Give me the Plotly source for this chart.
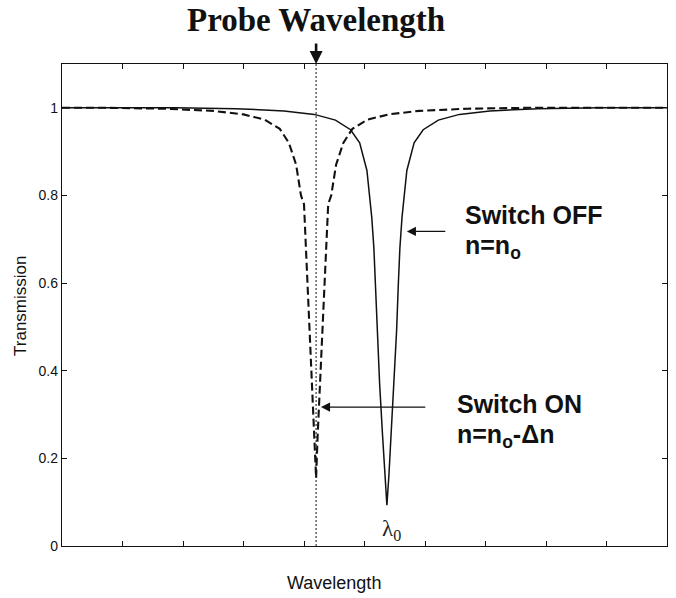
import plotly.graph_objects as go

# OFF state (solid), n = n_o, resonance at lambda_0
off_x = [0, 1, 1.87, 2.87, 3.67, 4.17, 4.52, 4.77, 4.92, 5.04, 5.12, 5.155, 5.18, 5.21, 5.25, 5.295, 5.335, 5.37,
         5.405, 5.445, 5.49, 5.53, 5.56, 5.585, 5.62, 5.70, 5.82, 5.97, 6.22, 6.57, 7.07, 7.87, 8.87, 10]
off_y = [1.0, 1.0, 1.0, 0.998, 0.993, 0.985, 0.972, 0.95, 0.92, 0.857, 0.75, 0.68, 0.60, 0.49, 0.37, 0.26, 0.165, 0.093,
         0.165, 0.26, 0.37, 0.49, 0.60, 0.68, 0.75, 0.857, 0.92, 0.95, 0.972, 0.985, 0.993, 0.998, 1.0, 1.0]

# ON state (dashed), n = n_o - dn, resonance shifted to the probe wavelength
on_x = [0, 0.7, 1.7, 2.5, 3.0, 3.35, 3.6, 3.75, 3.87, 3.95, 4.0, 4.04, 4.08, 4.12, 4.15, 4.175, 4.2,
        4.225, 4.25, 4.28, 4.32, 4.36, 4.4, 4.45, 4.53, 4.65, 4.8, 5.05, 5.4, 5.9, 6.7, 7.7, 10]
on_y = [1.0, 1.0, 0.998, 0.993, 0.985, 0.973, 0.952, 0.92, 0.87, 0.80, 0.78, 0.66, 0.55, 0.42, 0.33, 0.25, 0.155,
        0.25, 0.33, 0.42, 0.55, 0.66, 0.78, 0.80, 0.87, 0.92, 0.952, 0.973, 0.985, 0.993, 0.998, 1.0, 1.0]

probe_x = 4.2
lambda0_x = 5.37

y_ticks = [0, 0.2, 0.4, 0.6, 0.8, 1]
y_labels = ["0", "0.2", "0.4", "0.6", "0.8", "1"]
x_ticks = [1, 2, 3, 4, 5, 6, 7, 8, 9]

fig = go.Figure()
fig.add_trace(go.Scatter(x=on_x, y=on_y, mode="lines",
                         line=dict(color="#111111", width=2.1, dash="8px,4px"), showlegend=False))
fig.add_trace(go.Scatter(x=off_x, y=off_y, mode="lines",
                         line=dict(color="#111111", width=1.5), showlegend=False))
# probe wavelength dotted line
fig.add_trace(go.Scatter(x=[probe_x, probe_x], y=[0, 1.1], mode="lines",
                         line=dict(color="#111111", width=1, dash="2px,2px"), showlegend=False))

arial = "Liberation Sans, Arial, sans-serif"
lab = dict(family=arial, size=25, color="#111")
ann = []
ann.append(dict(text="<b>Probe Wavelength</b>", xref="x", yref="paper", x=probe_x, y=1.0,
                yshift=64, xanchor="center", yanchor="top", showarrow=False,
                font=dict(family="Liberation Serif, Times New Roman, serif", size=33, color="#111")))
ann.append(dict(text="", xref="x", yref="paper", x=probe_x, y=1.0, ax=0, ay=-22,
                showarrow=True, arrowhead=2, arrowsize=1, arrowwidth=2.6, arrowcolor="#111"))
ann.append(dict(text="", xref="x", yref="y", x=5.70, y=0.718, ax=6.36, ay=0.718, axref="x", ayref="y",
                showarrow=True, arrowhead=2, arrowsize=1.4, arrowwidth=1.3, arrowcolor="#111"))
ann.append(dict(text="", xref="x", yref="y", x=4.28, y=0.317, ax=6.03, ay=0.317, axref="x", ayref="y",
                showarrow=True, arrowhead=2, arrowsize=1.4, arrowwidth=1.3, arrowcolor="#111"))
ann.append(dict(text="<b>Switch OFF</b>", xref="x", yref="y", x=6.62, y=0.756,
                xanchor="left", yanchor="middle", showarrow=False, font=lab))
ann.append(dict(text="<b>n=n<sub>o</sub></b>", xref="x", yref="y", x=6.62, y=0.682,
                xanchor="left", yanchor="middle", showarrow=False, font=lab))
ann.append(dict(text="<b>Switch ON</b>", xref="x", yref="y", x=6.50, y=0.324,
                xanchor="left", yanchor="middle", showarrow=False, font=lab))
ann.append(dict(text="<b>n=n<sub>o</sub>-Δn</b>", xref="x", yref="y", x=6.50, y=0.252,
                xanchor="left", yanchor="middle", showarrow=False, font=lab))
ann.append(dict(text="λ<sub>0</sub>", xref="x", yref="y", x=5.44, y=0.036,
                xanchor="center", yanchor="middle", showarrow=False,
                font=dict(family="Liberation Serif, Times New Roman, serif", size=23, color="#222")))
ann.append(dict(text="Wavelength", xref="paper", yref="paper", x=0.45, y=0, yshift=-37,
                xanchor="center", yanchor="middle", showarrow=False,
                font=dict(family=arial, size=18, color="#111")))
ann.append(dict(text="Transmission", xref="paper", yref="paper", x=0, xshift=-41, y=0.498,
                xanchor="center", yanchor="middle", textangle=-90, showarrow=False,
                font=dict(family=arial, size=17, color="#111")))

fig.update_layout(
    width=676, height=598,
    margin=dict(l=62, r=9, t=64, b=52),
    paper_bgcolor="white", plot_bgcolor="white",
    annotations=ann,
    xaxis=dict(range=[0, 10], tickvals=x_ticks, showticklabels=False, ticks="inside", ticklen=5,
               tickcolor="#111", showline=True, linecolor="#111", linewidth=1.4, mirror="allticks",
               showgrid=False, zeroline=False, fixedrange=True),
    yaxis=dict(range=[0, 1.1], tickvals=y_ticks, ticktext=y_labels, ticks="inside", ticklen=5,
               tickcolor="#111", showline=True, linecolor="#111", linewidth=1.4, mirror="allticks",
               showgrid=False, zeroline=False, fixedrange=True,
               tickfont=dict(family=arial, size=14, color="#111")),
)

fig.write_html("out.html", config={"displayModeBar": False},
               post_script="document.body.style.margin='0';document.body.style.overflow='hidden';")
